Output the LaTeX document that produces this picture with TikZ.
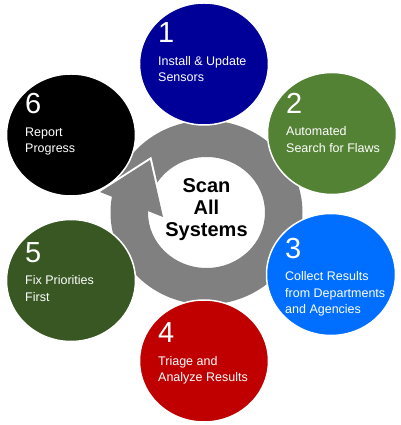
\documentclass[tikz,border=0pt]{standalone}
\usepackage{fontspec}
\setmainfont{Liberation Sans}
\usetikzlibrary{shapes.geometric,positioning}
\definecolor{stepblue}{RGB}{0,0,153}
\definecolor{stepgreen}{RGB}{84,130,53}
\definecolor{stepsky}{RGB}{0,110,255}
\definecolor{stepred}{RGB}{192,0,0}
\definecolor{stepolive}{RGB}{56,87,35}
\definecolor{ringgray}{RGB}{128,128,128}

\begin{document}
\begin{tikzpicture}[x=1pt,y=1pt,
	stepdisc/.style={ellipse,minimum width=129pt,minimum height=122pt,inner sep=0pt,draw=white,line width=1.5pt},
	stepnum/.style={anchor=base west,inner sep=0pt,text=white,font=\fontsize{29}{29}\selectfont},
	steptext/.style={anchor=base west,inner sep=0pt,text=white,align=left,font=\fontsize{12.5}{16.5}\selectfont},
	hub/.style={align=center,inner sep=0pt,font=\bfseries\fontsize{20}{22}\selectfont}]
	\useasboundingbox (0,0) rectangle (400,425);
	
	% ring with arrow
	\coordinate (c) at (206.5,212.5);
	\fill[ringgray,even odd rule] (c) ellipse [x radius=96,y radius=92] (c) ellipse [x radius=58.5,y radius=55.5];
	\coordinate (tip) at (150,265);
	\coordinate (barbout) at (100,233);
	\coordinate (barbin) at (163,208);
	\draw[white,line width=4pt] (barbout) -- (tip) -- (barbin);
	\fill[ringgray] (barbout) -- (tip) -- (barbin) -- cycle;
	\node[hub] (hub) at ([yshift=3pt]c) {Scan\\All\\Systems};
	
	% steps (text anchored on its last line)
	\node[stepdisc,fill=stepblue] (s1) at (204,361) {};
	\node[stepnum] (n1) at ([xshift=-46pt,yshift=21pt]s1.center) {1};
	\node[steptext] (t1) at ([yshift=-39pt]n1.base west) {Install \& Update\\Sensors};
	
	\node[stepdisc,fill=stepgreen] (s2) at (332,291.5) {};
	\node[stepnum] (n2) at ([xshift=-46pt,yshift=20pt]s2.center) {2};
	\node[steptext] (t2) at ([yshift=-39pt]n2.base west) {Automated\\Search for Flaws};
	
	\node[stepdisc,fill=stepsky] (s3) at (331,150.5) {};
	\node[stepnum] (n3) at ([xshift=-46pt,yshift=16pt]s3.center) {3};
	\node[steptext] (t3) at ([yshift=-55.5pt]n3.base west) {Collect Results\\from Departments\\and Agencies};
	
	\node[stepdisc,fill=stepred] (s4) at (204,64) {};
	\node[stepnum] (n4) at ([xshift=-46pt,yshift=18pt]s4.center) {4};
	\node[steptext] (t4) at ([yshift=-39pt]n4.base west) {Triage and\\Analyze Results};
	
	\node[stepdisc,fill=stepolive] (s5) at (71,144.5) {};
	\node[stepnum] (n5) at ([xshift=-46pt,yshift=18pt]s5.center) {5};
	\node[steptext] (t5) at ([yshift=-39pt]n5.base west) {Fix Priorities\\First};
	
	\node[stepdisc,fill=black] (s6) at (71,290) {};
	\node[stepnum] (n6) at ([xshift=-46pt,yshift=21pt]s6.center) {6};
	\node[steptext] (t6) at ([yshift=-39pt]n6.base west) {Report\\Progress};
\end{tikzpicture}
\end{document}
